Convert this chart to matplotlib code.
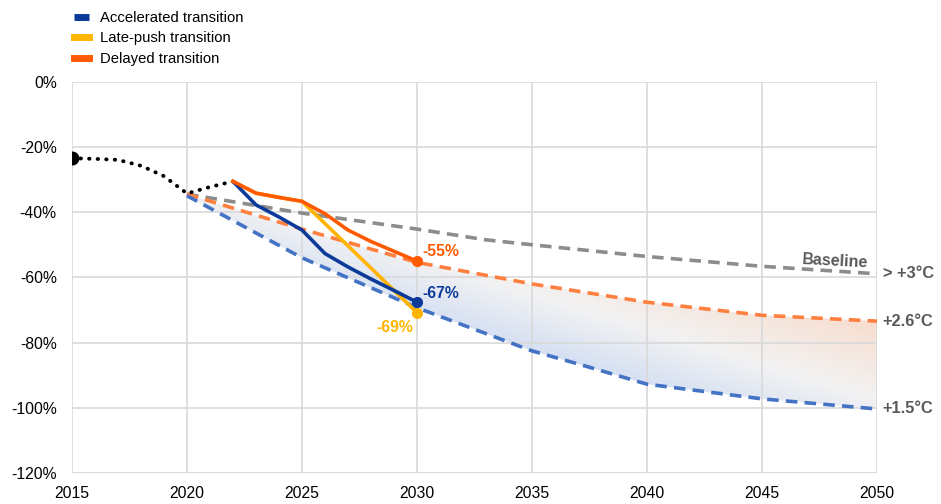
import numpy as np
import matplotlib
matplotlib.use("Agg")
import matplotlib.pyplot as plt
from matplotlib.colors import LinearSegmentedColormap
from matplotlib.path import Path
from matplotlib.patches import PathPatch

plt.rcParams['font.family'] = ['Liberation Sans', 'DejaVu Sans']

# ---- data ----
hist_years = [2015, 2016, 2017, 2018, 2019, 2020, 2021, 2022]
hist_vals = [-23.5, -23.7, -24.0, -25.8, -29.0, -34.3, -32.3, -30.6]

base_years = [2020, 2025, 2030, 2033, 2035, 2040, 2045, 2050]
base_vals = [-34.5, -40.3, -45.2, -48.5, -50.0, -53.6, -56.6, -58.9]

deg26_years = [2020, 2025, 2030, 2035, 2040, 2045, 2050]
deg26_vals = [-34.5, -45.2, -55.4, -62.0, -67.6, -71.6, -73.4]

deg15_years = [2020, 2025, 2030, 2035, 2037, 2040, 2045, 2050]
deg15_vals = [-35.0, -54.0, -69.3, -82.5, -86.5, -92.7, -97.2, -100.3]

acc_years = [2022, 2023, 2024, 2025, 2026, 2027, 2028, 2029, 2030]
acc_vals = [-30.6, -37.8, -41.5, -45.5, -52.7, -56.8, -60.5, -64.0, -67.6]

late_years = [2022, 2023, 2024, 2025, 2030]
late_vals = [-30.6, -34.2, -35.5, -36.7, -70.8]

del_years = [2022, 2023, 2024, 2025, 2026, 2027, 2028, 2029, 2030]
del_vals = [-30.6, -34.2, -35.5, -36.7, -40.5, -45.5, -49.0, -52.0, -55.0]

x_ticks = [2015, 2020, 2025, 2030, 2035, 2040, 2045, 2050]
y_ticks = [0, -20, -40, -60, -80, -100, -120]

end_labels = ["-67%", "-69%", "-55%"]
right_labels = ["> +3°C", "+2.6°C", "+1.5°C"]

C_ACC = "#0b3a99"
C_LATE = "#ffb400"
C_DEL = "#ff5a00"
C_BASE = "#8c8c8c"
C_26 = "#ff7f3f"
C_15 = "#4472c4"
C_TXT = "#595959"

fig = plt.figure(figsize=(9.41, 5.04), dpi=100)
ax = fig.add_axes([72/941, 1-473.3/504, (877-72)/941, (473.3-81.5)/504])
ax.set_xlim(2015, 2050)
ax.set_ylim(-120, 0)

# grid
ax.set_xticks(x_ticks)
ax.set_yticks(y_ticks)
ax.grid(True, color="#d9d9d9", lw=1.2, zorder=0)
for s in ax.spines.values():
    s.set_visible(False)
ax.axhline(-120, color="#d9d9d9", lw=1.4, zorder=0)
ax.tick_params(length=0, labelsize=11.3, colors="black")
ax.tick_params(axis='x', pad=9.5)
ax.tick_params(axis='y', pad=11)
ax.set_yticklabels([f"{v}%" for v in y_ticks])
ax.set_xticklabels([str(v) for v in x_ticks])

# gradient band between +1.5 and +2.6 paths
xs = np.linspace(2020, 2050, 400)
up = np.interp(xs, deg26_years, deg26_vals)
lo = np.interp(xs, deg15_years, deg15_vals)
verts = list(zip(xs, up)) + list(zip(xs[::-1], lo[::-1])) + [(xs[0], up[0])]
codes = [Path.MOVETO] + [Path.LINETO] * (len(verts) - 2) + [Path.CLOSEPOLY]
patch = PathPatch(Path(verts, codes), facecolor='none', edgecolor='none')
ax.add_patch(patch)
gx = np.linspace(2020, 2050, 300)
gy = np.linspace(-101, -34, 200)
GX, GY = np.meshgrid(gx, gy)
T = 0.5 * (GX - 2020) / 30 + 0.5 * (GY + 100) / 65
cmap = LinearSegmentedColormap.from_list(
    "band", [(0.0, "#94b4ee"), (0.3, "#c3d4f4"), (0.52, "#f2f2f2"),
             (0.75, "#f9d8c6"), (1.0, "#f7c4a8")])
im = ax.imshow(T, extent=[2020, 2050, -101, -34], origin='lower', cmap=cmap,
               vmin=0, vmax=1, aspect='auto', zorder=1, interpolation='bilinear')
im.set_clip_path(patch)

dash = (0, (3.2, 2.0))
ax.plot(base_years, base_vals, color=C_BASE, lw=2.6, ls=dash, zorder=3)
ax.plot(deg26_years, deg26_vals, color=C_26, lw=2.6, ls=dash, zorder=3)
ax.plot(deg15_years, deg15_vals, color=C_15, lw=2.6, ls=dash, zorder=3)

# history
ax.plot(hist_years, hist_vals, color="black", lw=2.8, ls=(0, (0.1, 2.1)),
        dash_capstyle='round', zorder=4)
ax.plot([hist_years[0]], [hist_vals[0]], marker='o', ms=9, color='black', zorder=5)

# scenarios
l_acc, = ax.plot(acc_years, acc_vals, color=C_ACC, lw=2.6, zorder=5,
                 solid_capstyle='butt', label="Accelerated transition")
l_late, = ax.plot(late_years, late_vals, color=C_LATE, lw=2.6, zorder=4,
                  label="Late-push transition")
l_del, = ax.plot(del_years, del_vals, color=C_DEL, lw=2.6, zorder=6,
                 label="Delayed transition")
ax.plot([acc_years[-1]], [acc_vals[-1]], 'o', ms=7, color=C_ACC, zorder=7)
ax.plot([late_years[-1]], [late_vals[-1]], 'o', ms=7, color=C_LATE, zorder=6)
ax.plot([del_years[-1]], [del_vals[-1]], 'o', ms=7, color=C_DEL, zorder=7)

ax.text(acc_years[-1] + 0.25, acc_vals[-1] + 2.8, end_labels[0], color=C_ACC,
        fontsize=11.3, fontweight='bold', va='center', ha='left', zorder=8)
ax.text(late_years[-1] - 0.15, late_vals[-1] - 4.5, end_labels[1], color=C_LATE,
        fontsize=11.3, fontweight='bold', va='center', ha='right', zorder=8)
ax.text(del_years[-1] + 0.25, del_vals[-1] + 3.0, end_labels[2], color=C_DEL,
        fontsize=11.3, fontweight='bold', va='center', ha='left', zorder=8)

ax.text(2048.2, base_vals[-1] + 4.0, "Baseline", color=C_TXT, fontsize=11.5,
        fontweight='bold', ha='center', va='center', rotation=-3)
ax.text(2050.25, base_vals[-1], right_labels[0], color=C_TXT, fontsize=11.8,
        fontweight='bold', ha='left', va='center', clip_on=False)
ax.text(2050.25, deg26_vals[-1], right_labels[1], color=C_TXT, fontsize=11.8,
        fontweight='bold', ha='left', va='center', clip_on=False)
ax.text(2050.25, deg15_vals[-1], right_labels[2], color=C_TXT, fontsize=11.8,
        fontweight='bold', ha='left', va='center', clip_on=False)

leg = fig.legend(handles=[l_acc, l_late, l_del], loc='upper left',
                 bbox_to_anchor=(68/941, 1 - 5/504), frameon=False, fontsize=10.7,
                 handlelength=1.0, handletextpad=0.75, labelspacing=0.43,
                 borderaxespad=0)
for h in leg.get_lines():
    h.set_linewidth(5)

fig.savefig("out.png", dpi=100)
